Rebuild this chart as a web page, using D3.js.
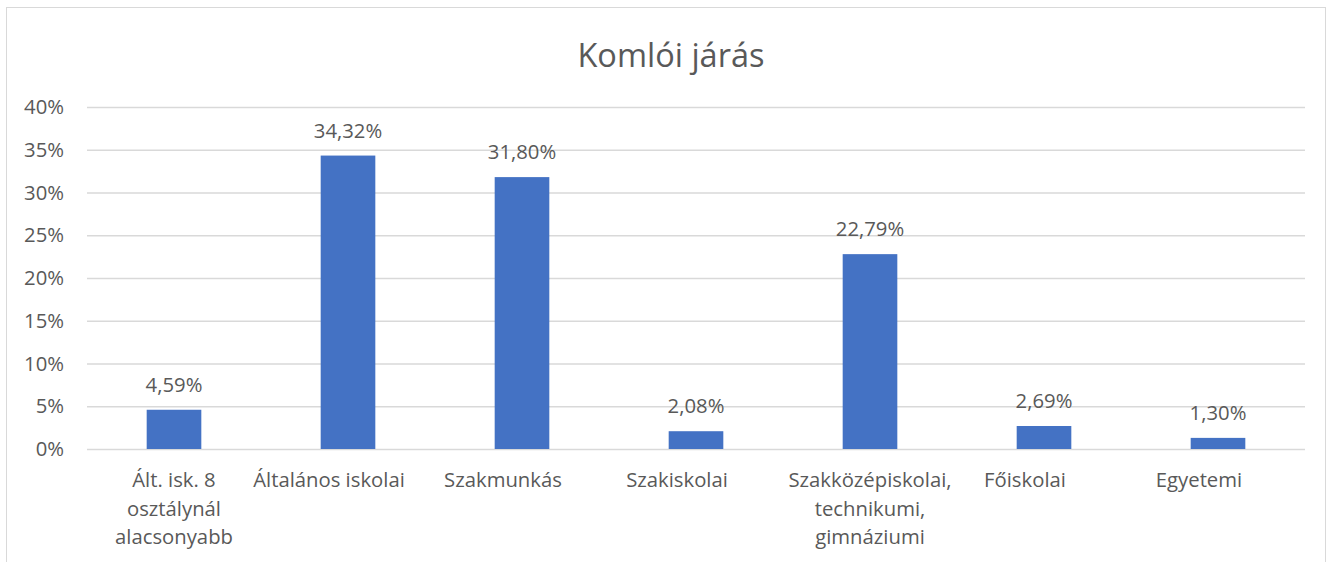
<!DOCTYPE html>
<html><head><meta charset="utf-8">
<script src="https://cdn.jsdelivr.net/npm/d3@7"></script>
<style>body{margin:0;background:#fff;}svg{display:block;font-family:"Open Sans","Noto Sans",sans-serif;}</style>
</head><body><svg id="c" width="1336" height="562"></svg>
<script>
const title = "Komlói járás";
const categories = [
  ["Ált. isk. 8","osztálynál","alacsonyabb"],
  ["Általános iskolai"],
  ["Szakmunkás"],
  ["Szakiskolai"],
  ["Szakközépiskolai,","technikumi,","gimnáziumi"],
  ["Főiskolai"],
  ["Egyetemi"]
];
const values = [4.59, 34.32, 31.80, 2.08, 22.79, 2.69, 1.30];
const valueLabels = ["4,59%","34,32%","31,80%","2,08%","22,79%","2,69%","1,30%"];
const yTicks = [0,5,10,15,20,25,30,35,40];

(function(){
const svg = d3.select("#c");
const textColor = "#595959";
const fs = 20.3;
svg.append("rect").attr("x",6.5).attr("y",7.5).attr("width",1319).attr("height",600)
  .attr("fill","#fff").attr("stroke","#d9d9d9").attr("stroke-width",1);

const pl = 87, pr = 1305, pt = 107, pb = 449;
const x = d3.scaleBand().domain(d3.range(categories.length)).range([pl,pr]).paddingInner(0.686).paddingOuter(0.343);
const y = d3.scaleLinear().domain([0,40]).range([pb, pt]);

svg.append("text").attr("x",671).attr("y",67).attr("text-anchor","middle")
  .attr("font-size",32.5).attr("fill",textColor).text(title);

const ya = svg.append("g").attr("transform",`translate(${pl},0)`)
  .call(d3.axisLeft(y).tickValues(yTicks).tickSize(-(pr-pl)).tickFormat(d=>d+"%"));
ya.select(".domain").remove();
ya.selectAll(".tick line").attr("stroke","#d9d9d9").attr("stroke-width",1.3);
ya.selectAll(".tick text").attr("x",-23).attr("font-size",fs).attr("fill",textColor).attr("font-family","Open Sans");

svg.append("g").selectAll("rect").data(values).join("rect")
  .attr("x",(d,i)=>x(i)).attr("width",x.bandwidth())
  .attr("y",d=>y(d)).attr("height",d=>y(0)-y(d)).attr("fill","#4472C4");

svg.append("g").selectAll("text").data(values).join("text")
  .attr("x",(d,i)=>x(i)+x.bandwidth()/2).attr("y",d=>y(d)-18)
  .attr("text-anchor","middle").attr("font-size",fs).attr("fill",textColor)
  .text((d,i)=>valueLabels[i]);

const xa = svg.append("g");
categories.forEach((lines,i)=>{
  const cx = x(i)+x.bandwidth()/2 + (lines.length===1 ? -19 : 0);
  const t = xa.append("text").attr("x",cx).attr("y",487)
    .attr("text-anchor","middle").attr("font-size",fs).attr("fill",textColor);
  lines.forEach((l,j)=>t.append("tspan").attr("x",cx).attr("dy",j===0?0:28.5).text(l));
});
})();
</script></body></html>
